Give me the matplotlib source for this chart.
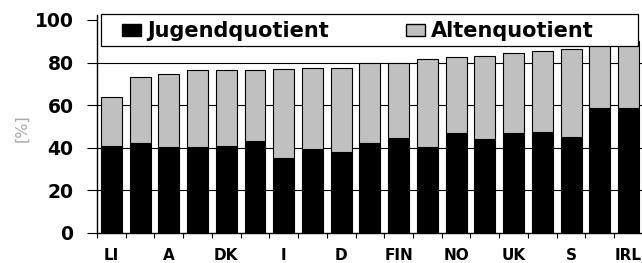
import matplotlib
matplotlib.use("Agg")
import matplotlib.pyplot as plt
from matplotlib.patches import Patch, Rectangle
import numpy as np

countries = ["LI", "", "A", "", "DK", "", "I", "", "D", "", "FIN", "", "NO", "", "UK", "", "S", "", "IRL"]
jugend = [41, 42.4, 40.2, 40.5, 41, 43, 35, 39.3, 37.9, 42.4, 44.4, 40.5, 46.8, 44, 46.8, 47.6, 44.9, 58.5, 58.5]
gesamt = [64, 73.1, 74.6, 76.5, 76.5, 76.5, 77, 77.3, 77.3, 79.6, 79.6, 81.7, 82.5, 83.1, 84.4, 85.6, 86.4, 89, 90]
alten = [g - j for g, j in zip(gesamt, jugend)]
series_names = ["Jugendquotient", "Altenquotient"]
yticks = [0, 20, 40, 60, 80, 100]

plt.rcParams['font.family'] = ['DejaVu Sans']

W, H = 642, 263
fig = plt.figure(figsize=(W / 100, H / 100), dpi=100)
ax = fig.add_axes([97 / W, 30 / H, 545 / W, 218 / H])

x = np.arange(len(countries))
w = 0.73
gray = "#c0c0c0"
ax.bar(x, jugend, width=w, color="black", edgecolor="black", linewidth=0.8, zorder=3)
ax.bar(x, alten, bottom=jugend, width=w, color=gray, edgecolor="black", linewidth=0.8, zorder=3)

ax.set_ylim(0, 102.3)
ax.set_xlim(-0.44, len(countries) - 1 + 0.47)
ax.set_yticks(yticks)
ax.set_yticklabels([str(v) for v in yticks], fontsize=13.5, fontweight="bold")
for v in yticks[1:-1]:
    ax.axhline(v, color="black", linewidth=0.8, zorder=1)

ax.set_xticks(x)
ax.set_xticklabels(countries, fontsize=11, fontweight="bold")
ax.tick_params(axis="x", length=0, pad=11)
ax.set_xticks(np.arange(len(countries)) - 0.5, minor=True)
ax.tick_params(axis="x", which="minor", length=3.6, width=0.8, direction="out")
ax.tick_params(axis="y", length=7, width=0.8, direction="out", pad=10)

for s in ["top", "right"]:
    ax.spines[s].set_visible(False)
ax.spines["left"].set_linewidth(1)
ax.spines["bottom"].set_linewidth(1)

fig.text(22 / W, 1 - 128 / H, "[%]", rotation=90, fontsize=11.5, color="#aaaaaa",
         ha="center", va="center")

# legend frame
frame = Rectangle((101 / W, 1 - 46 / H), 537 / W, 32 / H, transform=fig.transFigure,
                  facecolor="white", edgecolor="black", linewidth=0.9, zorder=4)
fig.add_artist(frame)

colors = ["black", gray]
starts = [122, 406]
for name, c, sx in zip(series_names, colors, starts):
    leg = fig.legend([Patch(facecolor=c, edgecolor="black")], [name],
                     loc="center left", bbox_to_anchor=(sx / W, 1 - 31 / H),
                     frameon=False, prop={"size": 15, "weight": "bold"},
                     handlelength=0.9, handleheight=0.5, handletextpad=0.3,
                     borderaxespad=0, borderpad=0)
    leg.set_zorder(5)

fig.savefig("out.png", dpi=100)
